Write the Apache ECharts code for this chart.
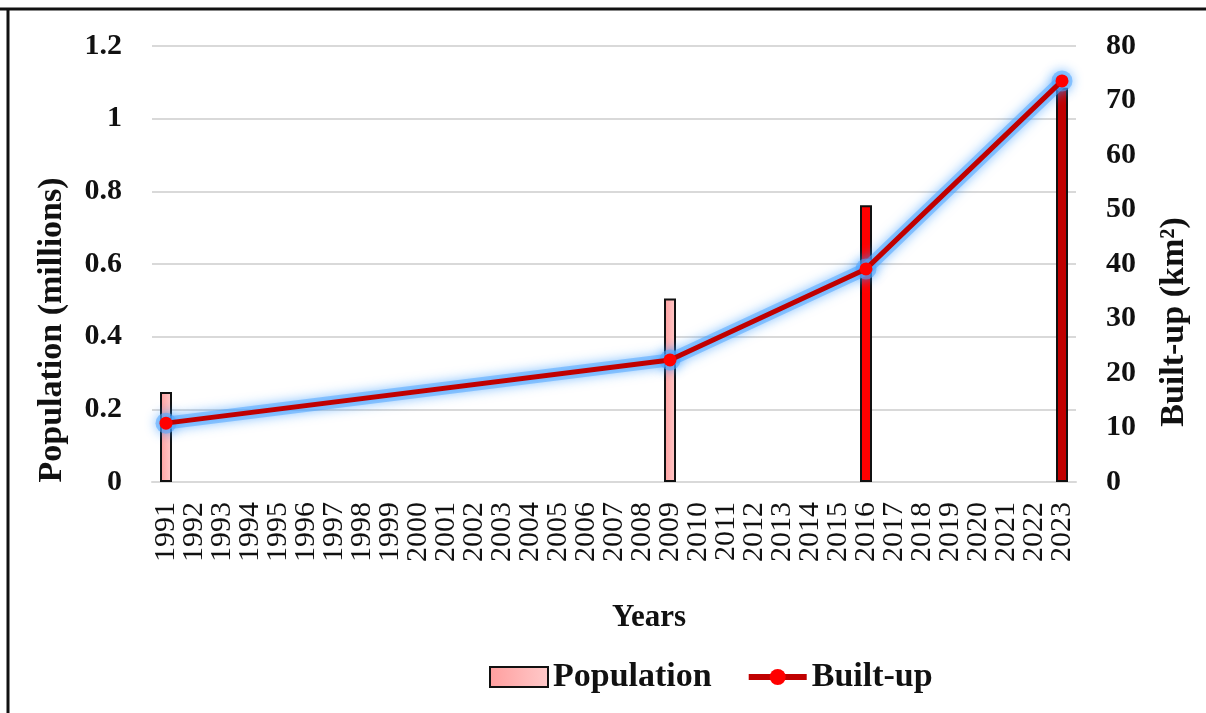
<!DOCTYPE html>
<html>
<head>
<meta charset="utf-8">
<script src="https://cdn.jsdelivr.net/npm/echarts@6/dist/echarts.min.js"></script>
<style>
  html, body { margin: 0; padding: 0; background: #fff; }
  #chart { width: 1206px; height: 713px; }
</style>
</head>
<body>
<div id="chart"></div>
<script>
// Years on the category axis
const years = [];
for (let y = 1991; y <= 2023; y++) years.push(String(y));

// Survey years with values
const dataYears = ['1991', '2009', '2016', '2023'];
const populationValues = [0.248, 0.505, 0.762, 1.085];   // millions
const builtUpValues = [10.8, 22.4, 39.1, 73.6];           // km²

// Bar fills for each survey year
const pinkFill = {
  type: 'linear', x: 0, y: 0, x2: 1, y2: 0,
  colorStops: [{ offset: 0, color: '#ff9e9e' }, { offset: 1, color: '#ffcaca' }]
};
const barFills = [pinkFill, pinkFill, '#ff0000', '#c00000'];

const FONT = '"Liberation Serif", "DejaVu Serif", serif';
const INK = '#111';
const GLOW = 'rgba(80,165,255,0.55)';
const GLOW_SHADOW = 'rgba(40,145,255,1)';

const popSeries = years.map(y => {
  const i = dataYears.indexOf(y);
  if (i < 0) return '-';
  return { value: populationValues[i], itemStyle: { color: barFills[i] } };
});
const builtSeries = years.map(y => {
  const i = dataYears.indexOf(y);
  return i < 0 ? '-' : builtUpValues[i];
});

const chart = echarts.init(document.getElementById('chart'), null, { renderer: 'canvas' });
chart.setOption({
  backgroundColor: '#fff',
  animation: false,
  textStyle: { fontFamily: FONT },
  grid: { left: 152, right: 130, top: 46, bottom: 231, containLabel: false },
  legend: {
    top: 655,
    left: 484,
    itemGap: 34,
    itemWidth: 58,
    itemHeight: 20,
    textStyle: { fontFamily: FONT, fontSize: 34, fontWeight: 'bold', color: INK },
    data: [
      { name: 'Population', icon: 'rect', itemStyle: { color: pinkFill, borderColor: INK, borderWidth: 2 } },
      {
        name: 'Built-up',
        lineStyle: { color: '#c00000', width: 6, shadowBlur: 0 },
        itemStyle: { color: '#ff0000', shadowBlur: 0 }
      }
    ]
  },
  xAxis: {
    type: 'category',
    data: years,
    boundaryGap: true,
    axisLine: { show: true, lineStyle: { color: '#d9d9d9', width: 2 } },
    axisTick: { show: false },
    axisLabel: {
      interval: 0, rotate: 90, margin: 20,
      fontFamily: FONT, fontSize: 30, color: INK
    }
  },
  yAxis: [
    {
      type: 'value', min: 0, max: 1.2, interval: 0.2,
      axisLine: { show: false }, axisTick: { show: false },
      splitLine: { lineStyle: { color: '#d9d9d9', width: 2 } },
      axisLabel: { margin: 30, fontFamily: FONT, fontSize: 30, fontWeight: 'bold', color: INK }
    },
    {
      type: 'value', min: 0, max: 80, interval: 10,
      axisLine: { show: false }, axisTick: { show: false },
      splitLine: { show: false },
      axisLabel: { margin: 30, fontFamily: FONT, fontSize: 30, fontWeight: 'bold', color: INK }
    }
  ],
  series: [
    {
      name: 'Population',
      type: 'bar',
      yAxisIndex: 0,
      barWidth: 12,
      itemStyle: { color: pinkFill, borderColor: INK, borderWidth: 2 },
      data: popSeries,
      z: 2
    },
    {
      // soft blue halo under the built-up line
      type: 'line',
      yAxisIndex: 1,
      connectNulls: true,
      silent: true,
      symbol: 'circle',
      symbolSize: 21,
      lineStyle: { color: GLOW, width: 13, shadowColor: GLOW_SHADOW, shadowBlur: 12 },
      itemStyle: { color: GLOW, shadowColor: GLOW_SHADOW, shadowBlur: 12 },
      data: builtSeries,
      z: 4
    },
    {
      name: 'Built-up',
      type: 'line',
      yAxisIndex: 1,
      connectNulls: true,
      symbol: 'circle',
      symbolSize: 13,
      lineStyle: { color: '#c00000', width: 5 },
      itemStyle: { color: '#ff0000' },
      data: builtSeries,
      z: 5
    }
  ],
  graphic: [
    // frame edges
    { type: 'line', shape: { x1: 0, y1: 9, x2: 1206, y2: 9 }, style: { stroke: INK, lineWidth: 3 } },
    { type: 'line', shape: { x1: 8, y1: 8, x2: 8, y2: 713 }, style: { stroke: INK, lineWidth: 3 } },
    // axis titles
    {
      type: 'text', x: 52, y: 330, rotation: Math.PI / 2,
      style: { text: 'Population (millions)', font: 'bold 34px ' + FONT, fill: INK, align: 'center', verticalAlign: 'middle' }
    },
    {
      type: 'text', x: 1174, y: 322, rotation: Math.PI / 2,
      style: { text: 'Built-up (km²)', font: 'bold 34px ' + FONT, fill: INK, align: 'center', verticalAlign: 'middle' }
    },
    {
      type: 'text', x: 649, y: 618,
      style: { text: 'Years', font: 'bold 31px ' + FONT, fill: INK, align: 'center', verticalAlign: 'middle' }
    }
  ]
});
</script>
</body>
</html>
